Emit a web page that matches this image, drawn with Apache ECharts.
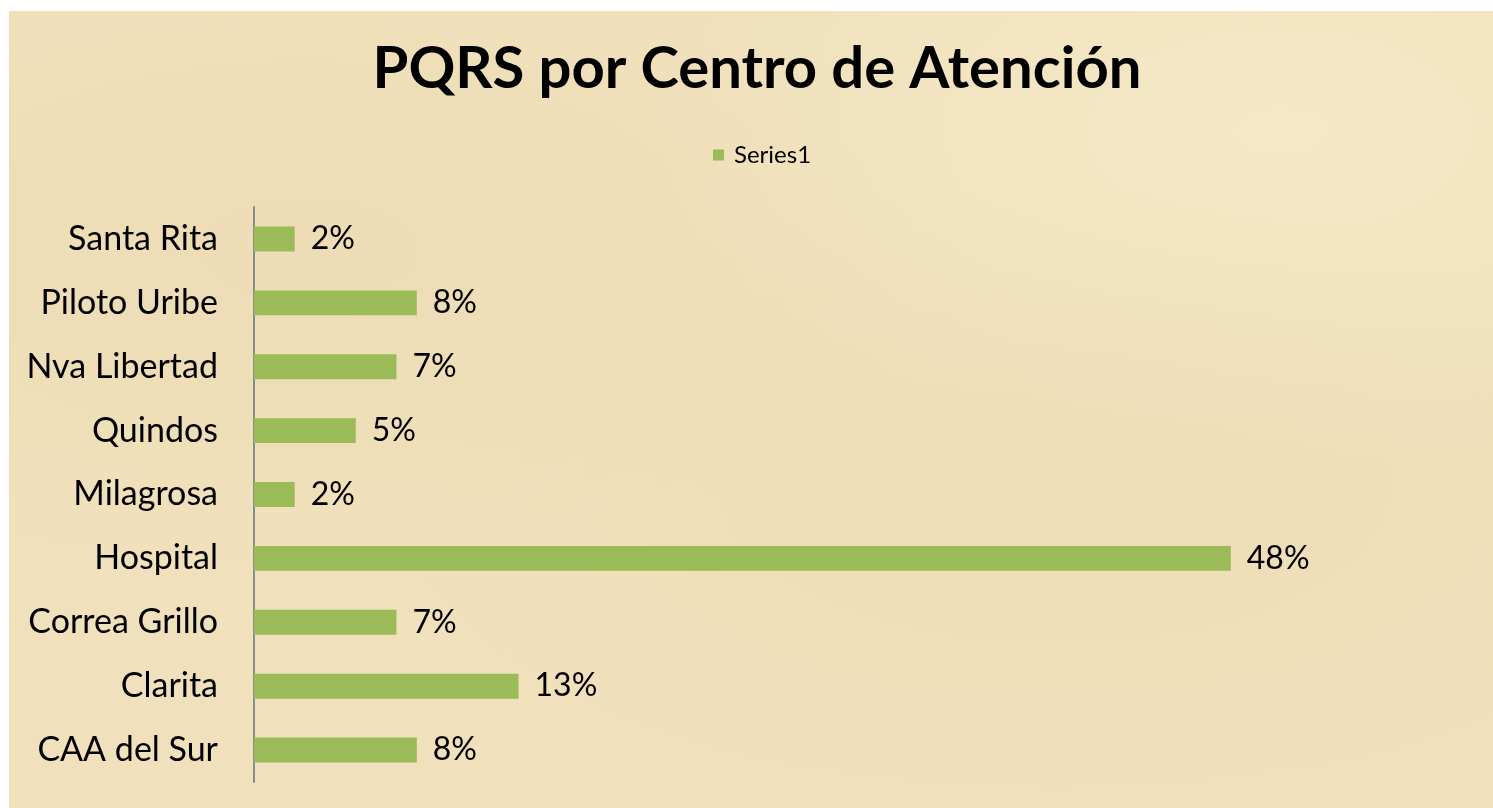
<!DOCTYPE html>
<html>
<head>
<meta charset="utf-8">
<script src="https://cdn.jsdelivr.net/npm/echarts@6/dist/echarts.min.js"></script>
<style>
  html, body { margin: 0; padding: 0; background: #fff; overflow: hidden; }
  #chart {
    position: absolute; left: 9px; top: 11px; width: 1496px; height: 797px;
    background-color: #F0E1BC;
    background-image:
      radial-gradient(ellipse at 20% 30%, rgba(228,205,160,0.25), rgba(0,0,0,0) 40%),
      radial-gradient(ellipse at 70% 60%, rgba(228,205,160,0.2), rgba(0,0,0,0) 45%),
      radial-gradient(ellipse at 85% 15%, rgba(250,240,210,0.5), rgba(0,0,0,0) 35%);
  }
</style>
</head>
<body>
<div id="chart"></div>
<script>
// PQRS por centro de atención (porcentaje)
var centros = ['CAA del Sur', 'Clarita', 'Correa Grillo', 'Hospital', 'Milagrosa', 'Quindos', 'Nva Libertad', 'Piloto Uribe', 'Santa Rita'];
var porcentajes = [8, 13, 7, 48, 2, 5, 7, 8, 2];
var nombreSerie = 'Series1';

var myChart = echarts.init(document.getElementById('chart'));
myChart.setOption({
    backgroundColor: 'transparent',
    textStyle: { fontFamily: 'Lato' },
    title: {
        text: 'PQRS por Centro de Atención',
        left: 'center',
        top: 24,
        textStyle: {
            color: '#000',
            fontSize: 58,
            fontWeight: 'bold',
            fontFamily: 'Lato'
        }
    },
    legend: {
        data: [nombreSerie],
        left: 699,
        top: 127,
        icon: 'rect',
        itemWidth: 11,
        itemHeight: 11,
        itemGap: 6,
        textStyle: { color: '#000', fontSize: 24, fontFamily: 'Lato', padding: [0, 0, 0, 5] }
    },
    grid: {
        left: 245,
        right: 30,
        top: 196,
        bottom: 26,
        containLabel: false
    },
    xAxis: {
        type: 'value',
        min: 0,
        max: 60,
        show: false
    },
    yAxis: {
        type: 'category',
        data: centros,
        axisLine: { show: true, lineStyle: { color: '#8c8c8c', width: 2 } },
        axisTick: { show: false },
        axisLabel: { color: '#000', fontSize: 34, margin: 36, fontFamily: 'Lato' },
        splitLine: { show: false }
    },
    series: [{
        name: nombreSerie,
        type: 'bar',
        data: porcentajes,
        barCategoryGap: '61%',
        itemStyle: { color: '#9BBB59' },
        label: {
            show: true,
            position: 'right',
            distance: 16,
            formatter: '{c}%',
            color: '#000',
            fontSize: 32,
            fontFamily: 'Lato'
        }
    }]
});
</script>
</body>
</html>
